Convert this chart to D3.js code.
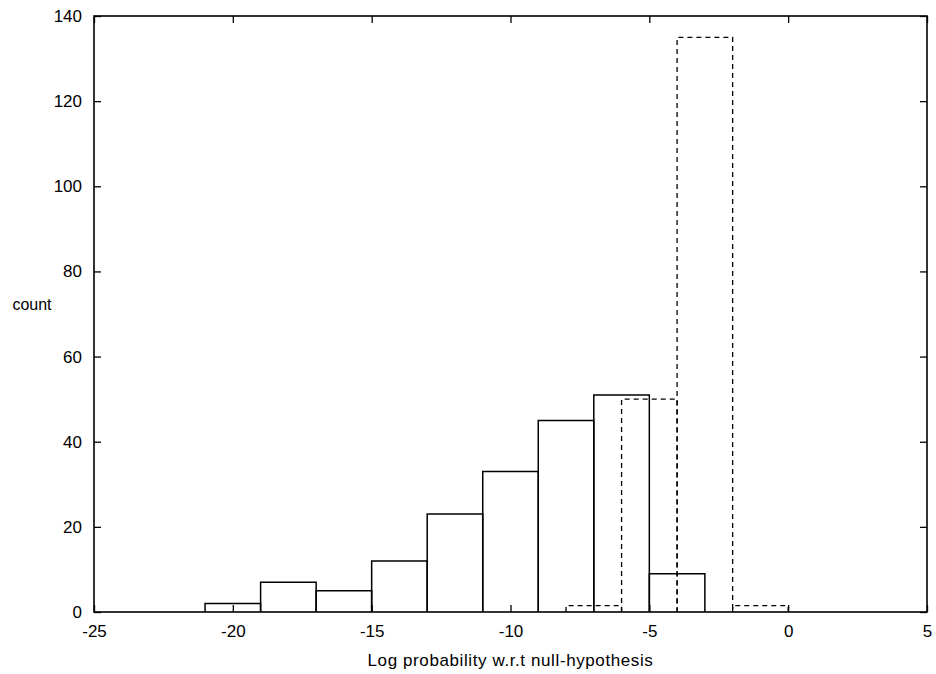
<!DOCTYPE html>
<html>
<head>
<meta charset="utf-8">
<script src="https://cdn.jsdelivr.net/npm/d3@7"></script>
<style>
  html, body { margin: 0; padding: 0; background: #fff; }
  svg { display: block; }
  text { font-family: "Liberation Sans", Arial, Helvetica, sans-serif; fill: #000; }
</style>
</head>
<body>
<svg id="chart" width="936" height="674"></svg>
<script>
// Histogram bins: [start, end] on the log-probability axis, with counts.
const solidStarts = [-21, -19, -17, -15, -13, -11, -9, -7, -5];
const solidEnds   = [-19, -17, -15, -13, -11, -9, -7, -5, -3];
const solidCounts = [2, 7, 5, 12, 23, 33, 45, 51, 9];

const dashedStarts = [-8, -6, -4, -2];
const dashedEnds   = [-6, -4, -2, 0];
const dashedCounts = [1.5, 50, 135, 1.5];

const xTicks = [-25, -20, -15, -10, -5, 0, 5];
const yTicks = [0, 20, 40, 60, 80, 100, 120, 140];

const xLabel = "Log probability w.r.t null-hypothesis";
const yLabel = "count";

const margin = { left: 94, right: 9, top: 16, bottom: 62 };
const W = 936, H = 674;
const svg = d3.select("#chart");

const x = d3.scaleLinear().domain([-25, 5]).range([margin.left, W - margin.right]);
const y = d3.scaleLinear().domain([0, 140]).range([H - margin.bottom, margin.top]);

// plain hyphen-minus for negative numbers
const fmt = d => String(d);

const solid = solidStarts.map((s, i) => ({ x0: s, x1: solidEnds[i], v: solidCounts[i] }));
const dashed = dashedStarts.map((s, i) => ({ x0: s, x1: dashedEnds[i], v: dashedCounts[i] }));

// Outline of each box: left side, top, right side (open at the bottom)
const boxPath = d => `M${x(d.x0)},${y(0)}V${y(d.v)}H${x(d.x1)}V${y(0)}`;

svg.append("g")
  .selectAll("path")
  .data(dashed)
  .join("path")
  .attr("d", boxPath)
  .attr("fill", "none")
  .attr("stroke", "#000")
  .attr("stroke-width", 1.3)
  .attr("stroke-dasharray", "5,4");

svg.append("g")
  .selectAll("path")
  .data(solid)
  .join("path")
  .attr("d", boxPath)
  .attr("fill", "none")
  .attr("stroke", "#000")
  .attr("stroke-width", 1.5);

// Frame with inward ticks on all four sides
const tickLen = 7;
const axes = svg.append("g");

const bottomAxis = d3.axisBottom(x).tickValues(xTicks).tickSize(-tickLen).tickPadding(13).tickFormat(fmt);
const topAxis = d3.axisTop(x).tickValues(xTicks).tickSize(-tickLen).tickFormat("");
const leftAxis = d3.axisLeft(y).tickValues(yTicks).tickSize(-tickLen).tickPadding(12).tickFormat(fmt);
const rightAxis = d3.axisRight(y).tickValues(yTicks).tickSize(-tickLen).tickFormat("");

axes.append("g").attr("transform", `translate(0,${y(0)})`).call(bottomAxis);
axes.append("g").attr("transform", `translate(0,${y(140)})`).call(topAxis);
axes.append("g").attr("transform", `translate(${x(-25)},0)`).call(leftAxis);
axes.append("g").attr("transform", `translate(${x(5)},0)`).call(rightAxis);

axes.selectAll(".domain").remove();
axes.selectAll(".tick line").attr("stroke", "#000").attr("stroke-width", 1.3);
axes.selectAll(".tick text").attr("font-size", 17).attr("font-family", "Liberation Sans, Arial, sans-serif").attr("fill", "#000");

svg.append("rect")
  .attr("x", x(-25)).attr("y", y(140))
  .attr("width", x(5) - x(-25)).attr("height", y(0) - y(140))
  .attr("fill", "none").attr("stroke", "#000").attr("stroke-width", 1.6);

svg.append("text")
  .attr("x", (x(-25) + x(5)) / 2)
  .attr("y", 666)
  .attr("text-anchor", "middle")
  .attr("font-size", 17)
  .attr("letter-spacing", 0.6)
  .text(xLabel);

svg.append("text")
  .attr("x", 32)
  .attr("y", 310)
  .attr("text-anchor", "middle")
  .attr("font-size", 16)
  .text(yLabel);
</script>
</body>
</html>
